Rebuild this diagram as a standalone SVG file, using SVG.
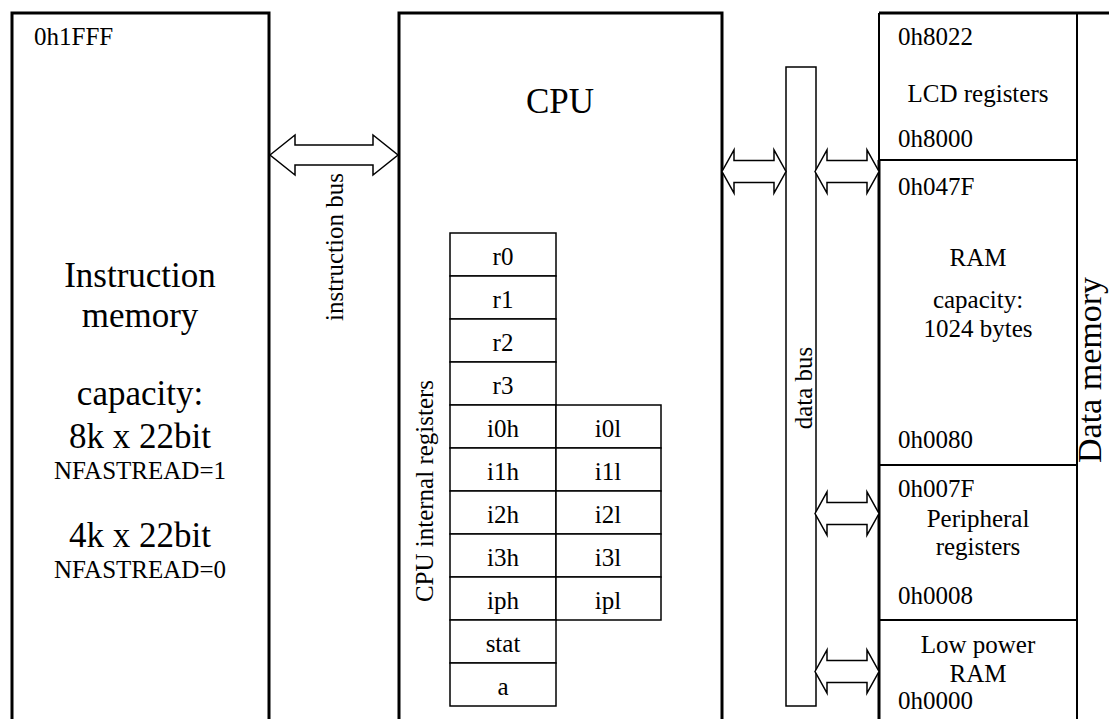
<svg xmlns="http://www.w3.org/2000/svg" xmlns:xlink="http://www.w3.org/1999/xlink" width="1109" height="719" viewBox="0 0 1109 719">
<style>
text{font-family:"Liberation Serif","Times New Roman",serif;fill:#000}
.big{font-size:35px;text-anchor:middle}
.lbl{font-size:25px}
.mid{text-anchor:middle}
.box{fill:#fff;stroke:#000;stroke-width:3}
.reg{fill:#fff;stroke:#000;stroke-width:1.5}
.arr{fill:#fff;stroke:#000;stroke-width:1.5;stroke-linejoin:miter}
.ln{fill:none;stroke:#000}
</style>
<defs>
<path id="darr" class="arr" d="M0,0 L12,-21.5 L12,-11 L52,-11 L52,-21.5 L64,0 L52,21.5 L52,11 L12,11 L12,21.5 Z"/>
</defs>
<rect width="1109" height="719" fill="#fff"/>

<g id="instruction-memory">
<rect class="box" x="12" y="13" width="257" height="730"/>
<text class="lbl" x="34" y="45">0h1FFF</text>
<text class="big" x="140" y="287">Instruction</text>
<text class="big" x="140" y="327">memory</text>
<text class="big" x="140" y="405">capacity:</text>
<text class="big" x="140" y="448">8k x 22bit</text>
<text class="lbl mid" x="140" y="479">NFASTREAD=1</text>
<text class="big" x="140" y="547">4k x 22bit</text>
<text class="lbl mid" x="140" y="578">NFASTREAD=0</text>
</g>

<g id="cpu">
<rect class="box" x="399" y="13" width="323" height="730"/>
<text class="big" x="560" y="113">CPU</text>
<text class="lbl mid" x="433" y="491" transform="rotate(-90 433 491)">CPU internal registers</text>
</g>

<g id="registers">
<rect class="reg" x="450" y="233" width="106" height="43"/><text class="lbl mid" x="503" y="265">r0</text>
<rect class="reg" x="450" y="276" width="106" height="43"/><text class="lbl mid" x="503" y="308">r1</text>
<rect class="reg" x="450" y="319" width="106" height="43"/><text class="lbl mid" x="503" y="351">r2</text>
<rect class="reg" x="450" y="362" width="106" height="43"/><text class="lbl mid" x="503" y="394">r3</text>
<rect class="reg" x="450" y="405" width="106" height="43"/><text class="lbl mid" x="503" y="437">i0h</text>
<rect class="reg" x="556" y="405" width="105" height="43"/><text class="lbl mid" x="608" y="437">i0l</text>
<rect class="reg" x="450" y="448" width="106" height="43"/><text class="lbl mid" x="503" y="480">i1h</text>
<rect class="reg" x="556" y="448" width="105" height="43"/><text class="lbl mid" x="608" y="480">i1l</text>
<rect class="reg" x="450" y="491" width="106" height="43"/><text class="lbl mid" x="503" y="523">i2h</text>
<rect class="reg" x="556" y="491" width="105" height="43"/><text class="lbl mid" x="608" y="523">i2l</text>
<rect class="reg" x="450" y="534" width="106" height="43"/><text class="lbl mid" x="503" y="566">i3h</text>
<rect class="reg" x="556" y="534" width="105" height="43"/><text class="lbl mid" x="608" y="566">i3l</text>
<rect class="reg" x="450" y="577" width="106" height="43"/><text class="lbl mid" x="503" y="609">iph</text>
<rect class="reg" x="556" y="577" width="105" height="43"/><text class="lbl mid" x="608" y="609">ipl</text>
<rect class="reg" x="450" y="620" width="106" height="43"/><text class="lbl mid" x="503" y="652">stat</text>
<rect class="reg" x="450" y="663" width="106" height="43"/><text class="lbl mid" x="503" y="695">a</text>
</g>

<g id="data-bus">
<rect class="reg" x="786" y="67" width="30" height="639"/>
<text class="lbl mid" x="812" y="388" transform="rotate(-90 812 388)">data bus</text>
</g>

<g id="data-memory">
<path class="ln" stroke-width="3" d="M879,13 H1109"/>
<path class="ln" stroke-width="2" d="M879,13 V160"/>
<path class="ln" stroke-width="3" d="M879,160 V719"/>
<path class="ln" stroke-width="2" d="M1077,13 V719 M879,160 H1077 M879,465 H1077 M879,620 H1077"/>
<text class="big" style="font-size:34px" x="1101" y="370" transform="rotate(-90 1101 370)">Data memory</text>
</g>

<g id="lcd-registers">
<text class="lbl" x="898" y="45">0h8022</text>
<text class="lbl mid" x="978" y="102">LCD registers</text>
<text class="lbl" x="898" y="147">0h8000</text>
</g>

<g id="ram">
<text class="lbl" x="898" y="195">0h047F</text>
<text class="lbl mid" x="978" y="266">RAM</text>
<text class="lbl mid" x="978" y="308">capacity:</text>
<text class="lbl mid" x="978" y="337">1024 bytes</text>
<text class="lbl" x="898" y="448">0h0080</text>
</g>

<g id="peripheral-registers">
<text class="lbl" x="898" y="497">0h007F</text>
<text class="lbl mid" x="978" y="527">Peripheral</text>
<text class="lbl mid" x="978" y="555">registers</text>
<text class="lbl" x="898" y="604">0h0008</text>
</g>

<g id="low-power-ram">
<text class="lbl mid" x="978" y="653">Low power</text>
<text class="lbl mid" x="978" y="682">RAM</text>
<text class="lbl" x="898" y="709">0h0000</text>
</g>

<g id="connectors">
<polygon class="arr" points="270,155 295,135 295,145 373,145 373,135 398,155 373,175 373,165 295,165 295,175"/>
<text class="lbl mid" x="343" y="247" transform="rotate(-90 343 247)">instruction bus</text>
<use xlink:href="#darr" transform="translate(722,171.5)"/>
<use xlink:href="#darr" transform="translate(815,171.5)"/>
<use xlink:href="#darr" transform="translate(815,513.5)"/>
<use xlink:href="#darr" transform="translate(815,671.5)"/>
</g>
</svg>
